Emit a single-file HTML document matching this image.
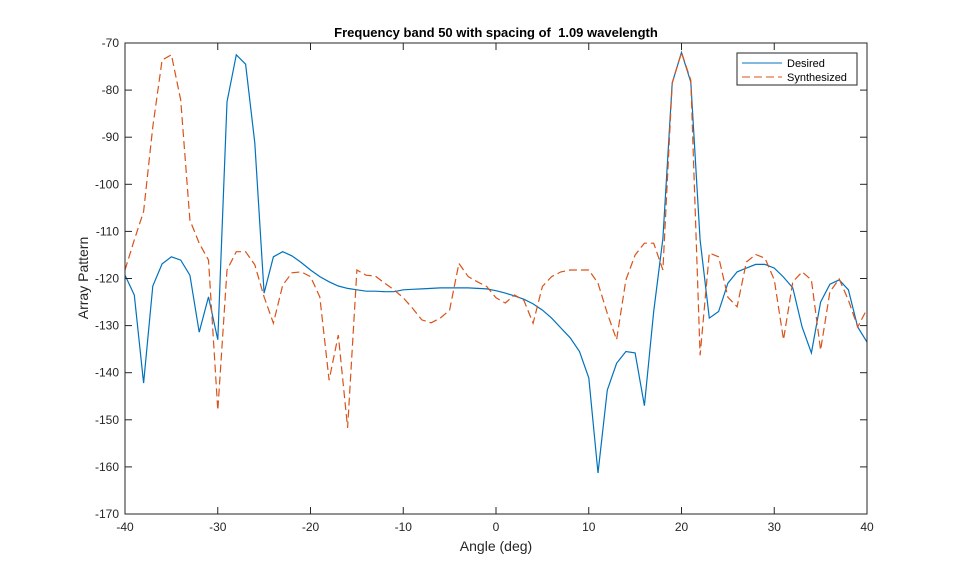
<!DOCTYPE html>
<html><head><meta charset="utf-8"><style>
body{margin:0;background:#fff;}
svg{font-family:"Liberation Sans",Arial,sans-serif;display:block}
</style></head><body>
<svg id="chart" width="959" height="577">
<rect x="0" y="0" width="959" height="577" fill="#fff"/>
<rect x="125" y="43" width="742" height="471" fill="#fff" stroke="none"/>
<g id="series"></g>
<rect x="125" y="43" width="742" height="471" fill="none" stroke="#262626" stroke-width="1"/>
<g id="ticks"></g>
<text x="496" y="37" text-anchor="middle" font-size="13" font-weight="bold" fill="#000">Frequency band 50 with spacing of&#160; 1.09 wavelength</text>
<text x="496" y="551" text-anchor="middle" font-size="14" fill="#262626">Angle (deg)</text>
<text transform="translate(88,278) rotate(-90)" text-anchor="middle" font-size="14" fill="#262626">Array Pattern</text>
<g>
<rect x="737" y="53" width="120" height="32" fill="#fff" stroke="#262626" stroke-width="1"/>
<g>
<line x1="742" y1="63" x2="782" y2="63" stroke="#0072BD" stroke-width="1"/>
<text x="787" y="67" font-size="11" fill="#000">Desired</text></g>
<g>
<line x1="742" y1="77" x2="782" y2="77" stroke="#D95319" stroke-width="1" stroke-dasharray="8,4"/>
<text x="787" y="81" font-size="11" fill="#000">Synthesized</text></g>
</g>
</svg>
<script>
const angles = [];
for (let a = -40; a <= 40; a++) angles.push(a);
const desired = [-119.3,-123.5,-142.2,-121.6,-116.9,-115.4,-116.1,-119.3,-131.4,-123.9,-133,-82.5,-72.5,-74.5,-91.2,-123.1,-115.4,-114.3,-115.2,-116.6,-118.2,-119.6,-120.7,-121.6,-122.1,-122.4,-122.7,-122.7,-122.8,-122.8,-122.4,-122.3,-122.2,-122.1,-122,-122,-122,-122,-122.1,-122.2,-122.6,-123.1,-123.7,-124.4,-125.4,-126.7,-128.4,-130.5,-132.6,-135.5,-141.1,-161.3,-143.7,-138,-135.5,-135.8,-147,-127,-111.5,-78.5,-72,-78.3,-111.8,-128.4,-127,-121,-118.6,-117.8,-117,-117,-117.8,-119.7,-122,-130.3,-135.8,-125,-121.2,-120.3,-122.4,-130.3,-133.5];
const synthesized = [-118.2,-111.8,-105.8,-87.8,-73.6,-72.5,-82.1,-107.6,-112.5,-116.1,-148,-118.2,-114.3,-114.3,-117.1,-123.9,-129.5,-121.4,-118.8,-118.6,-119.6,-123.9,-141.6,-132,-151.7,-118.2,-119.3,-119.5,-121,-122.4,-124.1,-126.3,-128.8,-129.4,-128.4,-126.7,-116.8,-119.6,-120.7,-121.7,-124.1,-125.2,-123.5,-124.6,-129.5,-121.7,-119.6,-118.6,-118.2,-118.2,-118.2,-121,-127.4,-133,-120.3,-115,-112.5,-112.5,-118.2,-78.5,-72,-77.9,-136.3,-114.6,-115.4,-124,-126,-116.5,-114.9,-115.7,-120.3,-133,-120.7,-118.6,-120.3,-135.2,-122.8,-120.1,-124.6,-130.3,-126.5];
const xTicks = [-40,-30,-20,-10,0,10,20,30,40];
const yTicks = [-70,-80,-90,-100,-110,-120,-130,-140,-150,-160,-170];

const NS = "http://www.w3.org/2000/svg";
const X0=125, X1=867, Y0=43, Y1=514;
function xs(v){return X0+(v+40)/80*(X1-X0);}
function ys(v){return Y0+(-70-v)/100*(Y1-Y0);}
const ticks=document.getElementById('ticks');
function mk(tag,attrs,parent){const e=document.createElementNS(NS,tag);for(const k in attrs)e.setAttribute(k,attrs[k]);parent.appendChild(e);return e;}
xTicks.forEach(v=>{
  const x=xs(v);
  const t1=mk('line',{x1:x,y1:Y1,x2:x,y2:Y1-7,stroke:'#262626'},ticks);
  
  
  mk('line',{x1:x,y1:Y0,x2:x,y2:Y0+7,stroke:'#262626'},ticks);
  const t=mk('text',{x:x,y:Y1+17,'text-anchor':'middle','font-size':'12',fill:'#262626'},ticks);
  t.textContent=String(v);
  
  
});
yTicks.forEach(v=>{
  const y=ys(v);
  const t1=mk('line',{x1:X0,y1:y,x2:X0+7,y2:y,stroke:'#262626'},ticks);
  
  
  mk('line',{x1:X1,y1:y,x2:X1-7,y2:y,stroke:'#262626'},ticks);
  const t=mk('text',{x:X0-6,y:y+4,'text-anchor':'end','font-size':'12',fill:'#262626'},ticks);
  t.textContent=String(v);
  
  
});
const series=document.getElementById('series');
function pts(arr){return arr.map((v,i)=>xs(angles[i]).toFixed(1)+','+ys(v).toFixed(1)).join(' ');}
const p1=mk('polyline',{points:pts(desired),fill:'none',stroke:'#0072BD','stroke-width':'1.2'},series);


const p2=mk('polyline',{points:pts(synthesized),fill:'none',stroke:'#D95319','stroke-width':'1.2','stroke-dasharray':'8,4'},series);


</script>
</body></html>
